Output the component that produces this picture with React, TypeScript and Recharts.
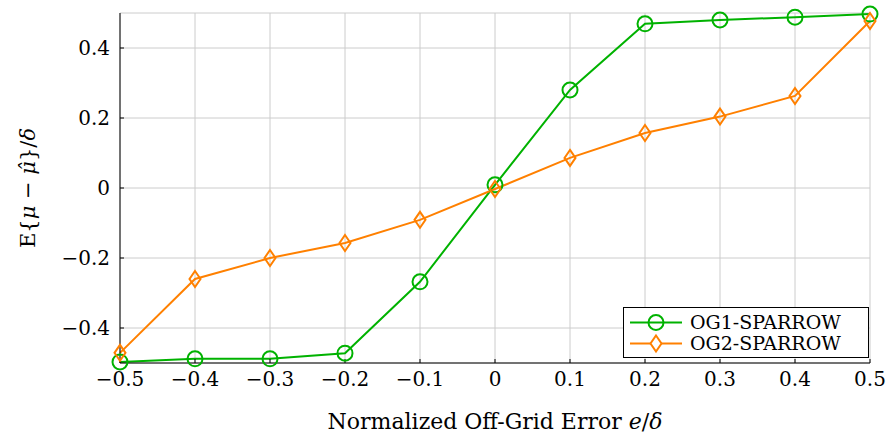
import React from 'react';
import { LineChart, Line, XAxis, YAxis, CartesianGrid, Legend } from 'recharts';

const errors = [-0.5, -0.4, -0.3, -0.2, -0.1, 0, 0.1, 0.2, 0.3, 0.4, 0.5];
const og1 = [-0.497, -0.488, -0.488, -0.472, -0.268, 0.009, 0.28, 0.469, 0.48, 0.488, 0.497];
const og2 = [-0.471, -0.26, -0.2, -0.157, -0.091, -0.003, 0.086, 0.157, 0.204, 0.263, 0.477];
const yTicks = [-0.4, -0.2, 0, 0.2, 0.4];

const data = errors.map((e, i) => ({ e, og1: og1[i], og2: og2[i] }));

const GREEN = '#00b200';
const ORANGE = '#ff8000';
const FONT = 'DejaVu Serif';

const fmt = (v: number) => (v === 0 ? '0' : v < 0 ? '\u2212' + Math.abs(v).toFixed(1) : v.toFixed(1));

const Circle = (props: any) => {
  const { cx, cy } = props;
  if (cx == null || cy == null) return null;
  return <circle cx={cx} cy={cy} r={7.5} fill="none" stroke={GREEN} strokeWidth={2} />;
};

const Diamond = (props: any) => {
  const { cx, cy } = props;
  if (cx == null || cy == null) return null;
  return (
    <path
      d={`M${cx},${cy - 8} L${cx + 5.5},${cy} L${cx},${cy + 8} L${cx - 5.5},${cy} Z`}
      fill="none"
      stroke={ORANGE}
      strokeWidth={2}
    />
  );
};

const LegendBox = () => (
  <div
    style={{
      border: '1px solid #000',
      background: '#fff',
      width: 246,
      height: 51,
      fontFamily: FONT,
      fontSize: 19,
      boxSizing: 'border-box',
      padding: '4px 0 0 6px',
      color: '#000',
    }}
  >
    {[
      { name: 'OG1-SPARROW', color: GREEN, circle: true },
      { name: 'OG2-SPARROW', color: ORANGE, circle: false },
    ].map((it) => (
      <div key={it.name} style={{ display: 'flex', alignItems: 'center', height: 21 }}>
        <svg width={54} height={21}>
          <line x1={0} y1={10.5} x2={52} y2={10.5} stroke={it.color} strokeWidth={2} />
          {it.circle ? (
            <circle cx={26} cy={10.5} r={7.5} fill="none" stroke={it.color} strokeWidth={2} />
          ) : (
            <path d="M26,2.5 L31.5,10.5 L26,18.5 L20.5,10.5 Z" fill="#fff" stroke={it.color} strokeWidth={2} />
          )}
        </svg>
        <span style={{ marginLeft: 6, lineHeight: '21px', whiteSpace: 'nowrap' }}>{it.name}</span>
      </div>
    ))}
  </div>
);

const YLabel = () => (
  <text
    x={28}
    y={188}
    transform="rotate(-90 28 188)"
    textAnchor="middle"
    dominantBaseline="central"
    fontFamily={FONT}
    fontSize={21}
    fill="#000"
  >
    E{'{'}
    <tspan fontStyle="italic">μ</tspan> − <tspan fontStyle="italic">μ&#770;</tspan>
    {'}'}/<tspan fontStyle="italic">δ</tspan>
  </text>
);

const XLabel = () => (
  <text x={495} y={421} textAnchor="middle" dominantBaseline="central" fontFamily={FONT} fontSize={22} fill="#000">
    Normalized Off-Grid Error <tspan fontStyle="italic">e</tspan>/<tspan fontStyle="italic">δ</tspan>
  </text>
);

export default function App() {
  return (
    <div style={{ width: 890, height: 436, background: '#fff', fontFamily: FONT }}>
      <style>{`body{margin:0} .recharts-cartesian-axis-tick-value{font-family:'DejaVu Serif';}`}</style>
      <LineChart width={890} height={436} data={data} margin={{ top: 13, right: 20, left: 0, bottom: 0 }}>
        <CartesianGrid stroke="#cccccc" strokeWidth={1} />
        <XAxis
          dataKey="e"
          type="number"
          domain={[-0.5, 0.5]}
          ticks={errors}
          tickFormatter={fmt}
          height={73}
          stroke="#000"
          tickSize={-4}
          tickMargin={13}
          tick={{ fill: '#000', fontFamily: FONT, fontSize: 20 }}
          label={<XLabel />}
        />
        <XAxis
          xAxisId="top"
          orientation="top"
          dataKey="e"
          type="number"
          domain={[-0.5, 0.5]}
          ticks={errors}
          height={0}
          stroke="#000"
          tickSize={-4}
          tick={false}
        />
        <YAxis
          type="number"
          domain={[-0.5, 0.5]}
          ticks={yTicks}
          tickFormatter={fmt}
          width={120}
          stroke="#000"
          tickSize={-4}
          tickMargin={14}
          tick={{ fill: '#000', fontFamily: FONT, fontSize: 20 }}
          label={<YLabel />}
        />
        <YAxis
          yAxisId="right"
          orientation="right"
          type="number"
          domain={[-0.5, 0.5]}
          ticks={yTicks}
          width={0}
          stroke="#000"
          tickSize={-4}
          tick={false}
        />
        <Legend
          layout="vertical"
          align="center"
          verticalAlign="middle"
          content={<LegendBox />}
          wrapperStyle={{ position: 'absolute', left: 623, top: 307, width: 246 }}
        />
        <Line
          dataKey="og1"
          name="OG1-SPARROW"
          stroke={GREEN}
          strokeWidth={2}
          dot={<Circle />}
          isAnimationActive={false}
        />
        <Line
          dataKey="og2"
          name="OG2-SPARROW"
          stroke={ORANGE}
          strokeWidth={2}
          dot={<Diamond />}
          isAnimationActive={false}
        />
      </LineChart>
    </div>
  );
}
